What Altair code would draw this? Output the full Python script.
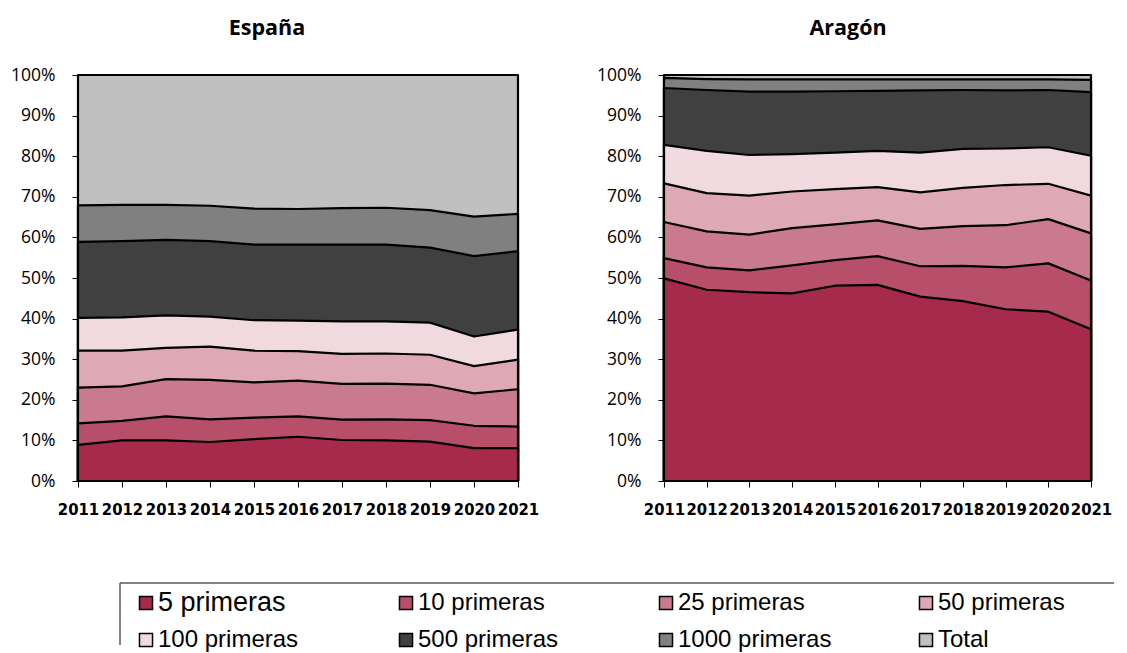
import altair as alt
import pandas as pd

years = [2011, 2012, 2013, 2014, 2015, 2016, 2017, 2018, 2019, 2020, 2021]
series = ["5 primeras", "10 primeras", "25 primeras", "50 primeras",
          "100 primeras", "500 primeras", "1000 primeras", "Total"]
colors = ["#A62A4A", "#B84F69", "#C97B8D", "#DEA9B5",
          "#F0DAE0", "#404040", "#808080", "#C0C0C0"]

# España (cumulative share, %)
es_5 = [8.9, 10.0, 10.0, 9.6, 10.3, 10.9, 10.1, 10.0, 9.7, 8.1, 8.1]
es_10 = [14.2, 14.8, 15.9, 15.2, 15.6, 15.9, 15.1, 15.2, 15.0, 13.6, 13.4]
es_25 = [23.0, 23.3, 25.1, 24.9, 24.3, 24.7, 23.9, 24.0, 23.7, 21.6, 22.6]
es_50 = [32.1, 32.1, 32.8, 33.1, 32.1, 32.0, 31.3, 31.4, 31.1, 28.3, 29.9]
es_100 = [40.2, 40.3, 40.8, 40.5, 39.6, 39.5, 39.3, 39.3, 39.0, 35.6, 37.3]
es_500 = [58.9, 59.1, 59.4, 59.1, 58.2, 58.2, 58.2, 58.2, 57.5, 55.4, 56.6]
es_1000 = [67.9, 68.0, 68.0, 67.8, 67.1, 67.0, 67.2, 67.3, 66.7, 65.1, 65.8]
es_total = [100, 100, 100, 100, 100, 100, 100, 100, 100, 100, 100]

# Aragón (cumulative share, %)
ar_5 = [49.9, 47.1, 46.5, 46.2, 48.1, 48.3, 45.4, 44.3, 42.3, 41.7, 37.4]
ar_10 = [54.9, 52.6, 51.9, 53.1, 54.4, 55.4, 52.9, 53.0, 52.6, 53.6, 49.4]
ar_25 = [63.8, 61.5, 60.7, 62.3, 63.2, 64.2, 62.1, 62.8, 63.0, 64.5, 61.0]
ar_50 = [73.3, 70.9, 70.3, 71.3, 71.9, 72.4, 71.1, 72.2, 72.9, 73.2, 70.3]
ar_100 = [82.8, 81.3, 80.3, 80.5, 80.9, 81.3, 80.9, 81.8, 81.9, 82.2, 80.1]
ar_500 = [96.8, 96.3, 95.9, 95.9, 96.0, 96.1, 96.2, 96.3, 96.2, 96.3, 95.8]
ar_1000 = [99.3, 99.0, 98.9, 98.9, 98.9, 98.9, 98.9, 98.9, 98.9, 98.9, 98.8]
ar_total = [100, 100, 100, 100, 100, 100, 100, 100, 100, 100, 100]

legend_col = [0, 1, 2, 3, 0, 1, 2, 3]
legend_row = [0, 0, 0, 0, 1, 1, 1, 1]


def make_df(values):
    rows = []
    for s, vals in zip(series, values):
        for yr, v in zip(years, vals):
            rows.append({"year": yr, "serie": s, "value": v})
    return pd.DataFrame(rows)


df_es = make_df([es_5, es_10, es_25, es_50, es_100, es_500, es_1000, es_total])
df_ar = make_df([ar_5, ar_10, ar_25, ar_50, ar_100, ar_500, ar_1000, ar_total])

color_scale = alt.Scale(domain=series, range=colors)

x_axis = alt.Axis(values=years, format="d",
                  labelFont="DejaVu Sans Condensed, DejaVu Sans",
                  labelFontSize=16.5, labelFontWeight="bold", labelColor="black",
                  labelOverlap=False, labelFlush=False, labelPadding=14,
                  tickColor="black", tickSize=6, tickWidth=1, domain=False,
                  grid=False, title=None)
y_axis = alt.Axis(values=[0, 10, 20, 30, 40, 50, 60, 70, 80, 90, 100],
                  labelExpr="datum.value + '%'", labelFont="Open Sans",
                  labelFontSize=17.5, labelColor="black", labelPadding=17,
                  tickColor="black", tickSize=6, tickWidth=1, domain=False,
                  grid=False, title=None, minExtent=66, maxExtent=66)


def panel(df, title, width, dx):
    layers = []
    for s in reversed(series):
        layers.append(
            alt.Chart(df).transform_filter(alt.datum.serie == s)
            .mark_area(stroke="black", strokeWidth=2.2, strokeJoin="round", opacity=1)
            .encode(
                x=alt.X("year:Q", scale=alt.Scale(domain=[2011, 2021], nice=False), axis=x_axis),
                y=alt.Y("value:Q", scale=alt.Scale(domain=[0, 100], nice=False), axis=y_axis),
                y2=alt.datum(0),
                color=alt.Color("serie:N", scale=color_scale, legend=None),
            )
        )
    return alt.layer(*layers).properties(
        width=width, height=406,
        title=alt.TitleParams(title, font="Open Sans", fontSize=21.5, fontWeight="bold",
                              color="black", anchor="middle", frame="group", dx=dx, offset=27),
    )


left = panel(df_es, "España", 440, -31)
right = panel(df_ar, "Aragón", 427, -29.5)

leg_df = pd.DataFrame({"serie": series, "col": legend_col, "row": legend_row})
leg_base = alt.Chart(leg_df).encode(
    x=alt.X("col:Q", scale=alt.Scale(domain=[0, 3], range=[68, 848]), axis=None),
    y=alt.Y("row:Q", scale=alt.Scale(domain=[0, 1], range=[20, 57]), axis=None),
)
squares = leg_base.mark_square(size=170, stroke="black", strokeWidth=1.5, opacity=1).encode(
    color=alt.Color("serie:N", scale=color_scale, legend=None)
)
texts = leg_base.mark_text(align="left", baseline="middle", dx=12,
                           font="Liberation Sans", color="black").encode(
    text="serie:N",
    size=alt.condition(alt.datum.serie == "5 primeras", alt.value(27), alt.value(24)),
)
one = pd.DataFrame({"k": [0]})
top_rule = alt.Chart(one).mark_rule(color="#595959", strokeWidth=1.5).encode(
    x=alt.value(42), x2=alt.value(1036), y=alt.value(0))
left_rule = alt.Chart(one).mark_rule(color="#595959", strokeWidth=1.5).encode(
    x=alt.value(42), y=alt.value(0), y2=alt.value(62))
legend_panel = alt.layer(top_rule, left_rule, squares, texts).properties(
    width=1030, height=62, view=alt.ViewBackground(stroke="transparent"))

top = alt.hconcat(left, right, spacing=146, bounds="flush")
chart = alt.vconcat(top, legend_panel, spacing=63).properties(
    padding={"left": 2, "top": 9, "right": 0, "bottom": 0}
).configure_view(stroke="black", strokeWidth=2).configure(background="white")

chart.save("out.html", embed_options={"renderer": "svg", "actions": False})
